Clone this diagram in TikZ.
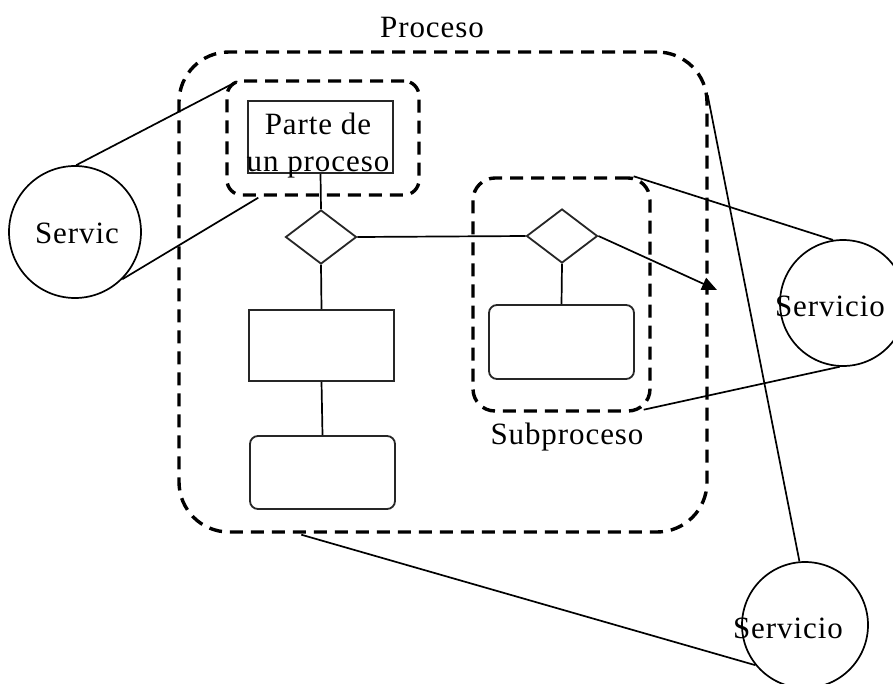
\documentclass[tikz,border=0pt]{standalone}
\usepackage{fontspec}
\setmainfont{Liberation Serif}
\usetikzlibrary{arrows.meta,shapes.geometric,calc}
\begin{document}
\begin{tikzpicture}[x=1pt,y=-1pt,
  grp/.style={draw=black, dash pattern=on 13pt off 8pt, line width=3.4pt, rounded corners=#1, inner sep=0pt},
  grp/.default=15pt,
  box/.style={draw=black!85, line width=1.8pt, inner sep=0pt},
  rbox/.style={box, rounded corners=8pt},
  dia/.style={diamond, draw=black!85, line width=1.8pt, inner sep=0pt},
  svc/.style={circle, draw=black, line width=1.7pt, inner sep=0pt, minimum size=#1},
  conn/.style={draw=black, line width=1.7pt},
  lbl/.style={font=\fontsize{31}{37}\selectfont\addfontfeatures{LetterSpace=3}, inner sep=0pt, align=center}
]
\clip (0,0) rectangle (893,683);
\fill[white] (0,0) rectangle (893,683);

% groups
\node[grp=50pt, minimum width=528pt, minimum height=480pt] (proc) at (443,292) {};
\node[grp=22pt, minimum width=177pt, minimum height=233pt] (sub) at (561.5,294.5) {};
\node[grp=15pt, minimum width=192pt, minimum height=114pt] (pgrp) at (323,138) {};

% boxes
\node[box, minimum width=145pt, minimum height=72pt] (parte) at (320.5,137) {};
\node[dia, minimum width=71pt, minimum height=54pt] (d1) at (321,237) {};
\node[box, minimum width=145pt, minimum height=71pt] (r2) at (321.5,345.5) {};
\node[rbox, minimum width=145pt, minimum height=73pt] (r3) at (322.5,472.5) {};
\node[dia, minimum width=71pt, minimum height=54pt] (d2) at (562,236) {};
\node[rbox, minimum width=145pt, minimum height=74pt] (r4) at (561.5,342) {};

% services
\node[svc=132pt] (servL) at (75,232) {};
\node[svc=126pt] (servR) at (843,303) {};
\node[svc=126pt] (servB) at (805,625) {};

% labels
\node[lbl] (tProc) at (432,27) {Proceso};
\node[lbl] (tSub) at (567,437) {Subproceso};
\node[lbl] (tParte) at (318,146) {Parte de\\un proceso};
\node[lbl] (tServL) at (77,233) {Servic};
\node[lbl] (tServR) at (830,306) {Servicio};
\node[lbl] (tServB) at (788,628) {Servicio};

% connectors
\draw[conn] (parte.south) -- (d1.north);
\draw[conn] (d1.south) -- (r2.north);
\draw[conn] (r2.south) -- (r3.north);
\draw[conn] (d1.east) -- (d2.west);
\draw[conn] (d2.south) -- (r4.north);
\coordinate (arrEnd) at (717,290);
\draw[conn, -{Triangle[length=15pt,width=13pt]}] (d2.east) -- (arrEnd);

\draw[conn] (servL.89) -- ($(pgrp.north west)+(12,2)$);
\draw[conn] (servL.-45) -- ($(pgrp.south west)+(33,1)$);
\draw[conn] (servR.99) -- ($(sub.north east)+(-18,0)$);
\draw[conn] (servR.-93) -- ($(sub.south east)+(-8,-3)$);
\draw[conn] (servB.95) -- ($(proc.north east)+(-1,45)$);
\draw[conn] (servB.219) -- ($(proc.south west)+(124,1)$);
\end{tikzpicture}
\end{document}
